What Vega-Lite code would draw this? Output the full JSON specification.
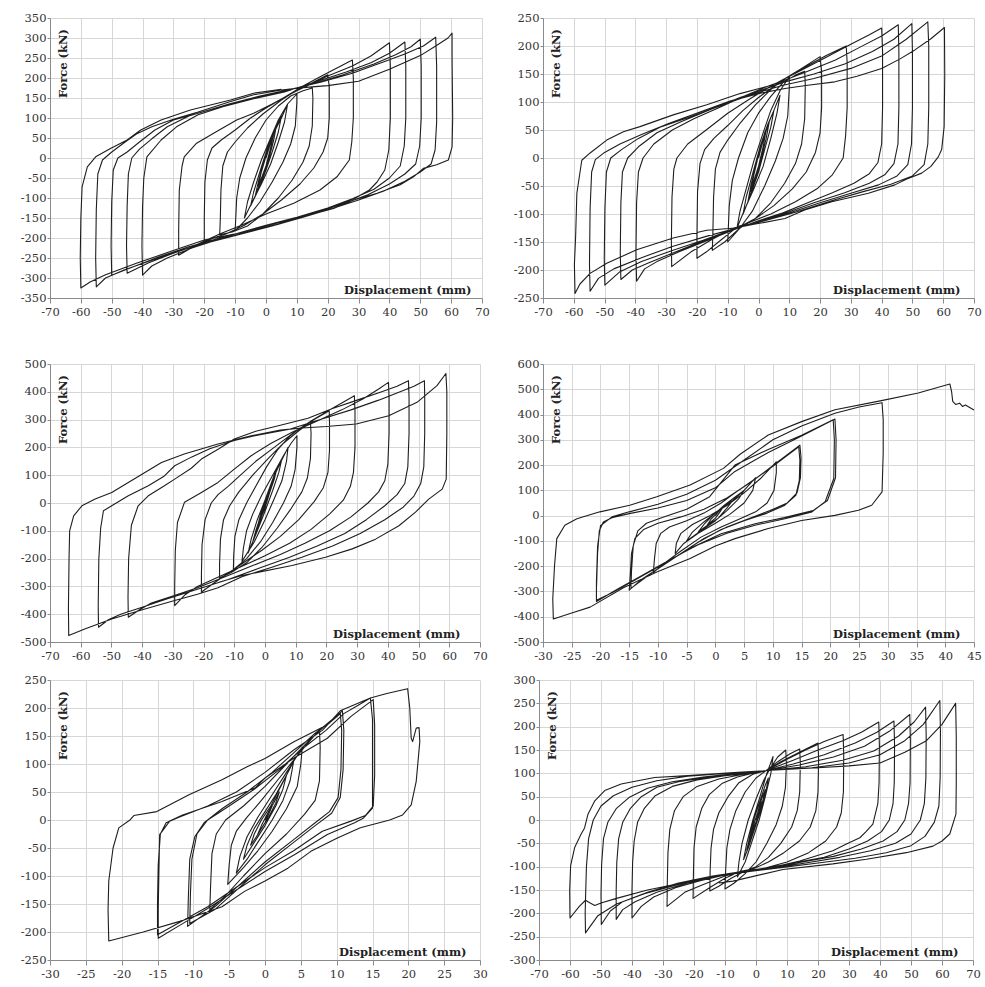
{
"$schema": "https://vega.github.io/schema/vega-lite/v6.json",
"background": "white",
"padding": {"left": 20, "top": 12, "right": 5, "bottom": 5},
"config": {
 "view": {"stroke": null},
 "axis": {"grid": true, "gridColor": "#d6d6d6", "gridWidth": 1, "domainColor": "#8a8a8a", "tickColor": "#8a8a8a", "labelFont": "DejaVu Serif", "labelFontSize": 11.5, "labelColor": "#333333", "titleFont": "DejaVu Serif", "titleFontSize": 11.5, "titleFontWeight": "bold", "titleColor": "#222222", "labelFlush": false, "labelOverlap": false, "labelExpr": "replace(datum.label, '\u2212', '-')"},
 "axisX": {"tickSize": 5, "labelPadding": 3, "titleAlign": "right", "titleBaseline": "middle", "titleY": -8, "titleAngle": 0},
 "axisY": {"tickSize": 3, "labelPadding": 1, "titleAngle": 270, "titleAlign": "center", "titleBaseline": "middle", "titleX": 13, "titleY": 45},
 "line": {"color": "#1e1e1e", "strokeWidth": 1.1, "strokeJoin": "round", "clip": true}
},
"datasets": {
"p1": [
{"x":0,"y":0},{"x":1.2,"y":30},{"x":2.5,"y":60},{"x":1.5,"y":25},{"x":0,"y":-20},{"x":-1.2,"y":-45},{"x":-2.5,"y":-70},
{"x":-1.5,"y":-35},{"x":0,"y":5},{"x":2,"y":50},{"x":3.5,"y":85},{"x":2.5,"y":45},{"x":0.5,"y":-15},{"x":-1.5,"y":-55},{"x":-3.5,"y":-95},
{"x":-2.5,"y":-60},{"x":-0.5,"y":-5},{"x":2,"y":55},{"x":5,"y":105},{"x":4,"y":65},{"x":2,"y":15},{"x":0,"y":-30},{"x":-2.5,"y":-80},{"x":-5,"y":-120},
{"x":-4,"y":-85},{"x":-2,"y":-35},{"x":0.5,"y":25},{"x":3,"y":70},{"x":5,"y":100},{"x":7,"y":135},{"x":6,"y":90},{"x":4,"y":40},{"x":1.5,"y":-15},{"x":-1.5,"y":-65},{"x":-4.5,"y":-110},{"x":-7,"y":-150},
{"x":-6,"y":-110},{"x":-4,"y":-60},{"x":-1.5,"y":-5},{"x":1.5,"y":50},{"x":4,"y":95},{"x":7,"y":135},{"x":10,"y":160},{"x":10,"y":140},{"x":9.5,"y":80},{"x":8,"y":35},{"x":5.5,"y":-10},{"x":2,"y":-60},{"x":-2,"y":-110},{"x":-6,"y":-150},{"x":-10,"y":-182},
{"x":-9.8,"y":-150},{"x":-9.5,"y":-100},{"x":-8.5,"y":-50},{"x":-6.5,"y":0},{"x":-3.5,"y":50},{"x":0,"y":95},{"x":4,"y":130},{"x":8,"y":155},{"x":12,"y":168},{"x":15,"y":175},{"x":15.2,"y":150},{"x":15,"y":80},{"x":14,"y":30},{"x":12,"y":-10},{"x":8.5,"y":-55},{"x":4,"y":-100},{"x":-1,"y":-140},{"x":-6,"y":-170},{"x":-11,"y":-185},{"x":-15,"y":-192},
{"x":-14.8,"y":-150},{"x":-14.6,"y":-80},{"x":-14,"y":-20},{"x":-12.5,"y":15},{"x":-10,"y":40},{"x":-6,"y":75},{"x":-1,"y":110},{"x":5,"y":145},{"x":10,"y":170},{"x":15,"y":188},{"x":20,"y":208},{"x":20.5,"y":180},{"x":20.5,"y":100},{"x":20,"y":50},{"x":18.5,"y":15},{"x":15.5,"y":-25},{"x":11,"y":-65},{"x":5,"y":-105},{"x":-1,"y":-140},{"x":-7,"y":-168},{"x":-13,"y":-190},{"x":-17,"y":-200},{"x":-20,"y":-210},
{"x":-20,"y":-150},{"x":-19.8,"y":-60},{"x":-19,"y":-5},{"x":-17.5,"y":25},{"x":-14.5,"y":45},{"x":-10,"y":70},{"x":-5,"y":100},{"x":0,"y":125},{"x":6,"y":152},{"x":12,"y":180},{"x":18,"y":205},{"x":23,"y":225},{"x":28,"y":245},{"x":28.3,"y":200},{"x":28.3,"y":100},{"x":27.8,"y":40},{"x":27,"y":-5},{"x":23,"y":-47},{"x":17.5,"y":-80},{"x":9,"y":-113},{"x":0,"y":-140},{"x":-8,"y":-168},{"x":-15,"y":-190},{"x":-22,"y":-215},{"x":-28.3,"y":-243},
{"x":-28.3,"y":-180},{"x":-28.1,"y":-80},{"x":-27.2,"y":-20},{"x":-26.5,"y":3},{"x":-22.5,"y":37},{"x":-16,"y":66},{"x":-9.5,"y":95},{"x":-4,"y":112},{"x":2,"y":135},{"x":10,"y":168},{"x":20,"y":205},{"x":28,"y":230},{"x":34,"y":255},{"x":40,"y":288},{"x":40.3,"y":230},{"x":40.3,"y":100},{"x":39.8,"y":20},{"x":38.5,"y":-30},{"x":36,"y":-60},{"x":33.5,"y":-80},{"x":29,"y":-100},{"x":22,"y":-122},{"x":14,"y":-142},{"x":4,"y":-165},{"x":-6,"y":-185},{"x":-16,"y":-205},{"x":-24,"y":-225},{"x":-32,"y":-250},{"x":-37,"y":-270},{"x":-40,"y":-293},
{"x":-40.2,"y":-220},{"x":-40,"y":-120},{"x":-39.6,"y":-50},{"x":-38.6,"y":3},{"x":-34,"y":45},{"x":-29,"y":78},{"x":-22,"y":108},{"x":-14,"y":128},{"x":-4,"y":148},{"x":6,"y":165},{"x":16,"y":190},{"x":26,"y":215},{"x":34,"y":238},{"x":40,"y":262},{"x":45,"y":290},{"x":45.3,"y":230},{"x":45.3,"y":100},{"x":44.8,"y":30},{"x":43.5,"y":-20},{"x":40,"y":-50},{"x":35,"y":-78},{"x":28,"y":-102},{"x":20,"y":-125},{"x":10,"y":-148},{"x":0,"y":-168},{"x":-10,"y":-190},{"x":-20,"y":-212},{"x":-30,"y":-238},{"x":-38,"y":-262},{"x":-45,"y":-288},
{"x":-45.2,"y":-220},{"x":-45,"y":-120},{"x":-44.6,"y":-40},{"x":-43.5,"y":0},{"x":-41,"y":22},{"x":-37,"y":48},{"x":-32,"y":78},{"x":-25,"y":105},{"x":-15,"y":128},{"x":-5,"y":148},{"x":5,"y":165},{"x":15,"y":185},{"x":25,"y":208},{"x":35,"y":235},{"x":42,"y":258},{"x":47,"y":278},{"x":50,"y":297},{"x":50.3,"y":230},{"x":50.3,"y":100},{"x":49.8,"y":30},{"x":48.5,"y":-15},{"x":45,"y":-40},{"x":40,"y":-65},{"x":33,"y":-92},{"x":25,"y":-115},{"x":15,"y":-138},{"x":5,"y":-160},{"x":-5,"y":-180},{"x":-15,"y":-200},{"x":-25,"y":-222},{"x":-35,"y":-248},{"x":-43,"y":-272},{"x":-50,"y":-293},
{"x":-50.2,"y":-220},{"x":-50,"y":-110},{"x":-49.5,"y":-30},{"x":-48,"y":0},{"x":-45,"y":15},{"x":-41,"y":40},{"x":-36,"y":70},{"x":-30,"y":95},{"x":-22,"y":112},{"x":-12,"y":135},{"x":-2,"y":155},{"x":8,"y":172},{"x":18,"y":190},{"x":28,"y":212},{"x":38,"y":240},{"x":45,"y":260},{"x":51,"y":280},{"x":55,"y":302},{"x":55.3,"y":230},{"x":55.3,"y":90},{"x":54.8,"y":20},{"x":53.5,"y":-15},{"x":50,"y":-35},{"x":45,"y":-58},{"x":38,"y":-83},{"x":30,"y":-105},{"x":22,"y":-125},{"x":12,"y":-148},{"x":2,"y":-170},{"x":-8,"y":-190},{"x":-18,"y":-210},{"x":-28,"y":-232},{"x":-38,"y":-258},{"x":-46,"y":-280},{"x":-52,"y":-300},{"x":-55,"y":-322},
{"x":-55.2,"y":-250},{"x":-55,"y":-130},{"x":-54.5,"y":-40},{"x":-53,"y":-5},{"x":-50,"y":15},{"x":-46,"y":38},{"x":-42,"y":60},{"x":-37,"y":78},{"x":-30,"y":97},{"x":-22,"y":115},{"x":-12,"y":140},{"x":-4,"y":158},{"x":5,"y":170},{"x":12,"y":176},{"x":20,"y":181},{"x":30,"y":192},{"x":40,"y":222},{"x":50,"y":256},{"x":55,"y":280},{"x":59,"y":300},{"x":60.3,"y":312},{"x":60.3,"y":250},{"x":60.5,"y":100},{"x":60.3,"y":28},{"x":59.1,"y":-5},{"x":55.3,"y":-17},{"x":51,"y":-26},{"x":47.8,"y":-47},{"x":43.5,"y":-67},{"x":36,"y":-88},{"x":28.4,"y":-105},{"x":21.9,"y":-126},{"x":14.4,"y":-142},{"x":3.5,"y":-167},{"x":-7,"y":-185},{"x":-20,"y":-205},{"x":-31,"y":-234},{"x":-42,"y":-263},{"x":-52,"y":-292},{"x":-57,"y":-310},{"x":-60,"y":-325},
{"x":-60.2,"y":-250},{"x":-60,"y":-150},{"x":-59.6,"y":-72},{"x":-57.9,"y":-22},{"x":-55.2,"y":3},{"x":-50.4,"y":24},{"x":-45,"y":45},{"x":-40.6,"y":70},{"x":-34,"y":95},{"x":-24.5,"y":120},{"x":-11.5,"y":145},{"x":-4,"y":162},{"x":5,"y":172}
],
"p2": [
{"x":0,"y":0},{"x":1.2,"y":25},{"x":2.5,"y":50},{"x":1.5,"y":20},{"x":0,"y":-15},{"x":-1.2,"y":-35},{"x":-2.5,"y":-60},
{"x":-1.5,"y":-30},{"x":0,"y":5},{"x":2,"y":40},{"x":3.5,"y":65},{"x":2.5,"y":35},{"x":0.5,"y":-10},{"x":-1.5,"y":-45},{"x":-3.5,"y":-80},
{"x":-2.5,"y":-50},{"x":-0.5,"y":-5},{"x":2,"y":45},{"x":5,"y":85},{"x":4,"y":55},{"x":2,"y":15},{"x":0,"y":-25},{"x":-2.5,"y":-65},{"x":-5,"y":-100},
{"x":-4,"y":-70},{"x":-2,"y":-30},{"x":0.5,"y":20},{"x":3,"y":60},{"x":5,"y":85},{"x":7,"y":112},{"x":6,"y":80},{"x":4,"y":35},{"x":1.5,"y":-15},{"x":-1.5,"y":-55},{"x":-4.5,"y":-92},{"x":-7,"y":-125},
{"x":-6,"y":-95},{"x":-4,"y":-55},{"x":-1.5,"y":-5},{"x":1.5,"y":45},{"x":4,"y":85},{"x":7,"y":120},{"x":10,"y":145},{"x":10,"y":125},{"x":9.5,"y":75},{"x":8,"y":35},{"x":5.5,"y":-5},{"x":2,"y":-50},{"x":-2,"y":-95},{"x":-6,"y":-125},{"x":-10,"y":-150},
{"x":-9.8,"y":-125},{"x":-9.5,"y":-85},{"x":-8.5,"y":-40},{"x":-6.5,"y":0},{"x":-3.5,"y":45},{"x":0,"y":80},{"x":4,"y":110},{"x":8,"y":135},{"x":12,"y":148},{"x":15,"y":155},{"x":15.2,"y":130},{"x":15,"y":70},{"x":14,"y":25},{"x":12,"y":-10},{"x":8.5,"y":-45},{"x":4,"y":-80},{"x":-1,"y":-108},{"x":-6,"y":-125},{"x":-11,"y":-150},{"x":-15,"y":-165},
{"x":-14.8,"y":-130},{"x":-14.6,"y":-70},{"x":-14,"y":-20},{"x":-12.5,"y":10},{"x":-10,"y":32},{"x":-6,"y":62},{"x":-1,"y":95},{"x":4,"y":122},{"x":8,"y":140},{"x":14,"y":160},{"x":20,"y":181},{"x":20.5,"y":155},{"x":20.5,"y":90},{"x":20,"y":45},{"x":18.5,"y":10},{"x":15.5,"y":-25},{"x":11,"y":-55},{"x":5,"y":-85},{"x":-1,"y":-108},{"x":-8,"y":-128},{"x":-13,"y":-150},{"x":-17,"y":-168},{"x":-20,"y":-179},
{"x":-20,"y":-140},{"x":-19.8,"y":-60},{"x":-19,"y":-10},{"x":-17.5,"y":15},{"x":-14.5,"y":35},{"x":-10,"y":58},{"x":-5,"y":85},{"x":0,"y":108},{"x":5,"y":128},{"x":9,"y":143},{"x":15,"y":162},{"x":22,"y":183},{"x":28.5,"y":200},{"x":28.8,"y":170},{"x":28.8,"y":90},{"x":28.3,"y":40},{"x":27.5,"y":0},{"x":24,"y":-30},{"x":19,"y":-55},{"x":12,"y":-78},{"x":4,"y":-100},{"x":-3,"y":-115},{"x":-8,"y":-125},{"x":-15,"y":-145},{"x":-22,"y":-168},{"x":-28.2,"y":-194},
{"x":-28.3,"y":-150},{"x":-28.1,"y":-70},{"x":-27.5,"y":-20},{"x":-26.5,"y":0},{"x":-23,"y":25},{"x":-17,"y":50},{"x":-10,"y":80},{"x":-3,"y":105},{"x":3,"y":125},{"x":8,"y":140},{"x":15,"y":160},{"x":22,"y":180},{"x":30,"y":203},{"x":36,"y":220},{"x":40,"y":232},{"x":40.3,"y":190},{"x":40.3,"y":90},{"x":40,"y":25},{"x":38.8,"y":-8},{"x":36,"y":-28},{"x":31,"y":-45},{"x":24,"y":-62},{"x":16,"y":-80},{"x":8,"y":-98},{"x":0,"y":-112},{"x":-8,"y":-128},{"x":-17,"y":-148},{"x":-26,"y":-168},{"x":-33,"y":-185},{"x":-37,"y":-198},{"x":-39.6,"y":-220},
{"x":-39.8,"y":-170},{"x":-39.6,"y":-80},{"x":-39,"y":-25},{"x":-37.5,"y":0},{"x":-34,"y":25},{"x":-28,"y":50},{"x":-21,"y":70},{"x":-12,"y":92},{"x":-4,"y":112},{"x":3,"y":128},{"x":8,"y":138},{"x":16,"y":155},{"x":25,"y":175},{"x":33,"y":198},{"x":40,"y":218},{"x":45.4,"y":238},{"x":45.6,"y":190},{"x":45.6,"y":90},{"x":45.3,"y":25},{"x":44,"y":-10},{"x":41,"y":-30},{"x":36,"y":-45},{"x":28,"y":-62},{"x":18,"y":-80},{"x":8,"y":-100},{"x":0,"y":-113},{"x":-8,"y":-127},{"x":-18,"y":-148},{"x":-28,"y":-170},{"x":-36,"y":-188},{"x":-41,"y":-200},{"x":-44.7,"y":-217},
{"x":-44.9,"y":-170},{"x":-44.7,"y":-80},{"x":-44.2,"y":-25},{"x":-42.5,"y":0},{"x":-39,"y":20},{"x":-33,"y":45},{"x":-25,"y":65},{"x":-15,"y":88},{"x":-6,"y":108},{"x":2,"y":123},{"x":8,"y":135},{"x":18,"y":150},{"x":28,"y":168},{"x":37,"y":190},{"x":44,"y":212},{"x":49.8,"y":240},{"x":50,"y":190},{"x":50,"y":90},{"x":49.7,"y":25},{"x":48.5,"y":-12},{"x":45,"y":-32},{"x":39,"y":-48},{"x":30,"y":-63},{"x":20,"y":-80},{"x":9,"y":-100},{"x":0,"y":-114},{"x":-8,"y":-127},{"x":-18,"y":-147},{"x":-28,"y":-165},{"x":-38,"y":-185},{"x":-45,"y":-203},{"x":-49.9,"y":-227},
{"x":-50.1,"y":-180},{"x":-49.9,"y":-90},{"x":-49.4,"y":-25},{"x":-48,"y":0},{"x":-44.5,"y":15},{"x":-39,"y":35},{"x":-32,"y":55},{"x":-23,"y":72},{"x":-13,"y":92},{"x":-4,"y":110},{"x":3,"y":122},{"x":8,"y":130},{"x":18,"y":142},{"x":30,"y":160},{"x":40,"y":182},{"x":48,"y":212},{"x":55,"y":243},{"x":55.3,"y":200},{"x":55.3,"y":90},{"x":55,"y":25},{"x":53.8,"y":-12},{"x":50,"y":-32},{"x":43,"y":-47},{"x":34,"y":-60},{"x":24,"y":-76},{"x":12,"y":-97},{"x":2,"y":-112},{"x":-7,"y":-125},{"x":-17,"y":-140},{"x":-28,"y":-158},{"x":-38,"y":-178},{"x":-47,"y":-198},{"x":-52,"y":-215},{"x":-54.7,"y":-238},
{"x":-54.9,"y":-190},{"x":-54.7,"y":-90},{"x":-54.2,"y":-25},{"x":-53,"y":-3},{"x":-50,"y":10},{"x":-45,"y":25},{"x":-38,"y":42},{"x":-29,"y":62},{"x":-19,"y":82},{"x":-9,"y":102},{"x":0,"y":115},{"x":8.6,"y":124},{"x":16,"y":130},{"x":24.8,"y":136},{"x":32,"y":146},{"x":40,"y":160},{"x":46,"y":177},{"x":50.8,"y":193},{"x":56,"y":213},{"x":60.4,"y":233},{"x":60.5,"y":150},{"x":60.3,"y":56},{"x":59.5,"y":15},{"x":58.4,"y":2},{"x":56,"y":-15},{"x":53,"y":-27},{"x":48,"y":-38},{"x":44.3,"y":-48},{"x":35.7,"y":-63},{"x":23.8,"y":-78},{"x":15,"y":-93},{"x":8.6,"y":-108},{"x":-1,"y":-118},{"x":-7.6,"y":-125},{"x":-16.8,"y":-129},{"x":-27.7,"y":-143},{"x":-39.6,"y":-164},{"x":-49.3,"y":-188},{"x":-54.7,"y":-206},{"x":-58,"y":-225},{"x":-59.6,"y":-242},
{"x":-59.8,"y":-190},{"x":-59.4,"y":-140},{"x":-59,"y":-63},{"x":-57.4,"y":-4},{"x":-54.7,"y":9},{"x":-49.3,"y":32},{"x":-43.9,"y":47},{"x":-38.5,"y":56},{"x":-27.7,"y":77},{"x":-16.8,"y":95},{"x":-6,"y":115},{"x":3,"y":128},{"x":8.6,"y":138}
],
"p3": [
{"x":0,"y":0},{"x":1,"y":30},{"x":2,"y":60},{"x":1,"y":25},{"x":0,"y":-20},{"x":-1,"y":-45},{"x":-2,"y":-70},
{"x":-1,"y":-30},{"x":0,"y":10},{"x":1.5,"y":55},{"x":3,"y":100},{"x":2,"y":55},{"x":0.5,"y":0},{"x":-1.5,"y":-60},{"x":-3,"y":-110},
{"x":-2,"y":-65},{"x":-0.5,"y":-5},{"x":1.5,"y":55},{"x":4,"y":130},{"x":3,"y":85},{"x":1,"y":20},{"x":-1,"y":-45},{"x":-2.5,"y":-95},{"x":-4,"y":-140},
{"x":-3,"y":-100},{"x":-1,"y":-35},{"x":1,"y":30},{"x":3,"y":100},{"x":5.5,"y":160},{"x":4.5,"y":110},{"x":2.5,"y":45},{"x":0,"y":-30},{"x":-2.5,"y":-100},{"x":-5.5,"y":-180},
{"x":-4.5,"y":-130},{"x":-2.5,"y":-60},{"x":0,"y":10},{"x":2.5,"y":85},{"x":5,"y":145},{"x":7.5,"y":200},{"x":7,"y":150},{"x":5.5,"y":80},{"x":3,"y":15},{"x":0,"y":-60},{"x":-3.5,"y":-140},{"x":-7.5,"y":-210},
{"x":-7,"y":-160},{"x":-6,"y":-100},{"x":-4,"y":-40},{"x":-1,"y":30},{"x":2.5,"y":100},{"x":6,"y":170},{"x":8.5,"y":215},{"x":10.4,"y":242},{"x":10.4,"y":200},{"x":9.8,"y":120},{"x":8.5,"y":60},{"x":6,"y":0},{"x":2.5,"y":-70},{"x":-1.5,"y":-140},{"x":-6,"y":-200},{"x":-10.3,"y":-240},
{"x":-10.2,"y":-190},{"x":-9.8,"y":-120},{"x":-8.5,"y":-60},{"x":-6,"y":0},{"x":-3,"y":60},{"x":0.5,"y":130},{"x":4,"y":190},{"x":8,"y":240},{"x":11.5,"y":270},{"x":14.8,"y":290},{"x":15,"y":250},{"x":14.8,"y":160},{"x":13.8,"y":90},{"x":12,"y":40},{"x":8.5,"y":-20},{"x":4,"y":-90},{"x":-1,"y":-160},{"x":-6,"y":-215},{"x":-11,"y":-250},{"x":-14.8,"y":-270},
{"x":-14.8,"y":-220},{"x":-14.5,"y":-130},{"x":-13.5,"y":-60},{"x":-11.5,"y":-10},{"x":-8.5,"y":40},{"x":-4,"y":100},{"x":1,"y":160},{"x":6,"y":215},{"x":11,"y":260},{"x":16,"y":300},{"x":20.9,"y":332},{"x":21,"y":290},{"x":21,"y":190},{"x":20.5,"y":110},{"x":19,"y":55},{"x":16,"y":5},{"x":11,"y":-60},{"x":5,"y":-120},{"x":-1,"y":-170},{"x":-7,"y":-215},{"x":-13,"y":-260},{"x":-17.5,"y":-295},{"x":-20.7,"y":-320},
{"x":-20.7,"y":-260},{"x":-20.5,"y":-150},{"x":-19.5,"y":-60},{"x":-17.5,"y":0},{"x":-15.3,"y":30},{"x":-12,"y":60},{"x":-8,"y":100},{"x":-3,"y":150},{"x":3,"y":200},{"x":9,"y":250},{"x":15,"y":295},{"x":21,"y":335},{"x":25,"y":360},{"x":29.1,"y":386},{"x":29.3,"y":330},{"x":29.3,"y":200},{"x":28.8,"y":110},{"x":27.8,"y":60},{"x":25.5,"y":10},{"x":21,"y":-40},{"x":15,"y":-95},{"x":8,"y":-145},{"x":0,"y":-190},{"x":-8,"y":-230},{"x":-15,"y":-265},{"x":-22,"y":-300},{"x":-26,"y":-330},{"x":-29.4,"y":-369},
{"x":-29.4,"y":-300},{"x":-29.2,"y":-170},{"x":-28.5,"y":-70},{"x":-26.2,"y":3},{"x":-20.7,"y":38},{"x":-15.3,"y":74},{"x":-10,"y":122},{"x":-4.5,"y":170},{"x":2,"y":215},{"x":9,"y":255},{"x":17,"y":295},{"x":25,"y":335},{"x":32,"y":375},{"x":37,"y":410},{"x":40.2,"y":434},{"x":40.4,"y":380},{"x":40.4,"y":250},{"x":40,"y":140},{"x":39,"y":80},{"x":37,"y":40},{"x":33.5,"y":0},{"x":28,"y":-50},{"x":21,"y":-100},{"x":13,"y":-145},{"x":5,"y":-185},{"x":-4,"y":-225},{"x":-13,"y":-265},{"x":-22,"y":-305},{"x":-30,"y":-335},{"x":-37,"y":-360},{"x":-41,"y":-385},{"x":-44.5,"y":-411},
{"x":-44.6,"y":-340},{"x":-44.4,"y":-200},{"x":-43.5,"y":-80},{"x":-41.3,"y":-10},{"x":-38,"y":26},{"x":-33,"y":60},{"x":-29.4,"y":86},{"x":-24,"y":125},{"x":-20.7,"y":158},{"x":-15,"y":195},{"x":-10,"y":230},{"x":-3,"y":258},{"x":5,"y":280},{"x":14,"y":305},{"x":22,"y":340},{"x":30,"y":370},{"x":38,"y":400},{"x":43,"y":420},{"x":46.7,"y":440},{"x":46.9,"y":380},{"x":46.9,"y":250},{"x":46.5,"y":130},{"x":45.5,"y":70},{"x":43,"y":30},{"x":39,"y":-10},{"x":33,"y":-60},{"x":26,"y":-110},{"x":17,"y":-155},{"x":8,"y":-195},{"x":-2,"y":-235},{"x":-12,"y":-275},{"x":-22,"y":-310},{"x":-32,"y":-345},{"x":-40,"y":-375},{"x":-47,"y":-400},{"x":-51,"y":-420},{"x":-54.2,"y":-447},
{"x":-54.3,"y":-370},{"x":-54.1,"y":-200},{"x":-53.5,"y":-90},{"x":-52.6,"y":-28},{"x":-49.9,"y":-10},{"x":-44.5,"y":26},{"x":-38,"y":62},{"x":-33,"y":95},{"x":-29.4,"y":134},{"x":-24,"y":165},{"x":-18,"y":195},{"x":-10,"y":225},{"x":-2,"y":245},{"x":8,"y":265},{"x":18,"y":300},{"x":28,"y":335},{"x":37,"y":370},{"x":44,"y":400},{"x":48.5,"y":420},{"x":51.9,"y":440},{"x":52,"y":380},{"x":52,"y":250},{"x":51.7,"y":130},{"x":50.7,"y":70},{"x":48.5,"y":25},{"x":45,"y":-15},{"x":39,"y":-60},{"x":31,"y":-110},{"x":22,"y":-155},{"x":12,"y":-195},{"x":2,"y":-232},{"x":-7,"y":-263},{"x":-15.3,"y":-305},{"x":-22,"y":-328},{"x":-29.4,"y":-351},{"x":-39.1,"y":-381},{"x":-49.9,"y":-417},{"x":-58.7,"y":-453},{"x":-63.9,"y":-477},
{"x":-64,"y":-380},{"x":-63.8,"y":-200},{"x":-63.6,"y":-100},{"x":-62.3,"y":-46},{"x":-59.6,"y":-10},{"x":-55.3,"y":14},{"x":-49.9,"y":38},{"x":-44.5,"y":74},{"x":-39.1,"y":110},{"x":-33.7,"y":146},{"x":-26.3,"y":176},{"x":-15.3,"y":212},{"x":-4.5,"y":242},{"x":5,"y":262},{"x":12,"y":270},{"x":20,"y":275},{"x":29.7,"y":284},{"x":40.3,"y":314},{"x":49.5,"y":362},{"x":56,"y":422},{"x":58.9,"y":466},
{"x":59.2,"y":400},{"x":59.2,"y":250},{"x":59,"y":86},{"x":57.7,"y":50},{"x":53.3,"y":14},{"x":49,"y":-33},{"x":43.6,"y":-82},{"x":36,"y":-130},{"x":28.4,"y":-165},{"x":19.7,"y":-195},{"x":8.8,"y":-225},{"x":-7.5,"y":-261},{"x":-15,"y":-285}
],
"p4": [
{"x":0,"y":0},{"x":0.8,"y":25},{"x":1.5,"y":40},{"x":0.8,"y":15},{"x":0,"y":-10},{"x":-0.8,"y":-25},{"x":-1.5,"y":-40},
{"x":-0.8,"y":-15},{"x":0.5,"y":15},{"x":2,"y":45},{"x":3,"y":60},{"x":2,"y":30},{"x":0.5,"y":-10},{"x":-1.5,"y":-40},{"x":-3,"y":-65},
{"x":-2,"y":-35},{"x":-0.5,"y":0},{"x":1.5,"y":40},{"x":3.5,"y":75},{"x":5,"y":100},{"x":4,"y":65},{"x":2,"y":20},{"x":0,"y":-20},{"x":-2.5,"y":-60},{"x":-5,"y":-100},
{"x":-4,"y":-65},{"x":-2,"y":-25},{"x":0.5,"y":20},{"x":3,"y":60},{"x":5,"y":100},{"x":7,"y":150},{"x":6.5,"y":100},{"x":5,"y":50},{"x":2.5,"y":5},{"x":0,"y":-30},{"x":-3,"y":-70},{"x":-5.5,"y":-110},{"x":-7,"y":-150},
{"x":-6.8,"y":-110},{"x":-6,"y":-70},{"x":-4,"y":-35},{"x":-1,"y":0},{"x":2,"y":40},{"x":5,"y":90},{"x":8,"y":150},{"x":10.6,"y":213},{"x":10.6,"y":170},{"x":10.2,"y":100},{"x":9,"y":50},{"x":7,"y":15},{"x":4,"y":-15},{"x":1,"y":-45},{"x":-2.5,"y":-85},{"x":-6,"y":-140},{"x":-9,"y":-190},{"x":-10.8,"y":-225},
{"x":-10.6,"y":-170},{"x":-10.3,"y":-110},{"x":-9.5,"y":-70},{"x":-8,"y":-45},{"x":-5,"y":-20},{"x":-2,"y":10},{"x":1,"y":50},{"x":4,"y":100},{"x":7.5,"y":155},{"x":11,"y":215},{"x":14.7,"y":279},{"x":14.9,"y":230},{"x":14.8,"y":150},{"x":14.2,"y":90},{"x":12.5,"y":50},{"x":9.5,"y":20},{"x":6,"y":-10},{"x":2,"y":-45},{"x":-2,"y":-90},{"x":-6,"y":-150},{"x":-10,"y":-210},{"x":-13,"y":-255},{"x":-15,"y":-295},
{"x":-14.8,"y":-230},{"x":-14.6,"y":-150},{"x":-14,"y":-90},{"x":-12.5,"y":-55},{"x":-10,"y":-30},{"x":-6,"y":-5},{"x":-2,"y":25},{"x":2,"y":70},{"x":6,"y":130},{"x":10,"y":195},{"x":14.5,"y":272},{"x":14.7,"y":220},{"x":14.6,"y":140},{"x":14,"y":80},{"x":12,"y":40},{"x":9,"y":10},{"x":5,"y":-20},{"x":1,"y":-55},{"x":-3,"y":-105},{"x":-7,"y":-165},{"x":-11,"y":-225},{"x":-14.7,"y":-288},
{"x":-14.6,"y":-220},{"x":-14.3,"y":-120},{"x":-13.5,"y":-60},{"x":-12,"y":-30},{"x":-9,"y":-5},{"x":-5,"y":25},{"x":-1,"y":75},{"x":3.4,"y":200},{"x":9.2,"y":262},{"x":15,"y":318},{"x":20.5,"y":379},{"x":20.7,"y":300},{"x":20.6,"y":147},{"x":19.1,"y":55},{"x":16.8,"y":15},{"x":12.1,"y":-12},{"x":6.9,"y":-38},{"x":2,"y":-70},{"x":-3,"y":-115},{"x":-8,"y":-175},{"x":-13,"y":-240},{"x":-17,"y":-290},{"x":-20.7,"y":-340},
{"x":-20.7,"y":-290},{"x":-20.5,"y":-150},{"x":-20.2,"y":-60},{"x":-19.5,"y":-25},{"x":-18,"y":-8},{"x":-15,"y":8},{"x":-10,"y":30},{"x":-5,"y":60},{"x":0,"y":110},{"x":3.4,"y":175},{"x":9.2,"y":250},{"x":15,"y":315},{"x":20.8,"y":382},{"x":21,"y":300},{"x":20.9,"y":150},{"x":19.5,"y":60},{"x":17,"y":20},{"x":12,"y":-8},{"x":6.9,"y":-32},{"x":1,"y":-72},{"x":-4,"y":-125},{"x":-9,"y":-190},{"x":-14,"y":-255},{"x":-18,"y":-305},{"x":-20.7,"y":-335},
{"x":-20.7,"y":-260},{"x":-20.5,"y":-120},{"x":-20,"y":-40},{"x":-18,"y":-5},{"x":-15,"y":15},{"x":-10,"y":45},{"x":-5,"y":85},{"x":0,"y":140},{"x":5,"y":220},{"x":10,"y":300},{"x":15,"y":355},{"x":20.8,"y":405},{"x":25,"y":430},{"x":29,"y":447},{"x":29.2,"y":380},{"x":29.2,"y":250},{"x":29,"y":94},{"x":27.2,"y":41},{"x":24.9,"y":21},{"x":20.8,"y":1},{"x":15,"y":-19},{"x":9.2,"y":-51},{"x":3.4,"y":-91},{"x":0,"y":-120},{"x":-4.4,"y":-170},{"x":-10.2,"y":-223},{"x":-16,"y":-285},{"x":-21.8,"y":-362},{"x":-25,"y":-385},{"x":-28.2,"y":-409},
{"x":-28.3,"y":-330},{"x":-28,"y":-200},{"x":-27.6,"y":-91},{"x":-26.2,"y":-38},{"x":-24.1,"y":-12},{"x":-20.1,"y":15},{"x":-14.9,"y":41},{"x":-10.2,"y":75},{"x":-4.4,"y":121},{"x":1.4,"y":187},{"x":4.3,"y":243},{"x":9.2,"y":319},{"x":15,"y":372},{"x":20.8,"y":419},{"x":28.9,"y":455},{"x":35.3,"y":485},{"x":40.8,"y":521},{"x":41.1,"y":491},{"x":41.3,"y":452},{"x":41.8,"y":440},{"x":42.5,"y":445},{"x":43,"y":432},{"x":43.5,"y":438},{"x":45,"y":418}
],
"p5": [
{"x":0,"y":0},{"x":0.5,"y":15},{"x":1,"y":25},{"x":0.5,"y":10},{"x":0,"y":-5},{"x":-0.5,"y":-15},{"x":-1,"y":-25},
{"x":-0.5,"y":-10},{"x":0.5,"y":15},{"x":1.2,"y":30},{"x":2,"y":50},{"x":1.5,"y":30},{"x":0.5,"y":5},{"x":-0.5,"y":-15},{"x":-1.2,"y":-30},{"x":-2,"y":-45},
{"x":-1.5,"y":-25},{"x":-0.5,"y":0},{"x":0.8,"y":25},{"x":2,"y":55},{"x":3,"y":80},{"x":2.5,"y":55},{"x":1.5,"y":25},{"x":0,"y":-10},{"x":-1.5,"y":-40},{"x":-3,"y":-70},
{"x":-2.5,"y":-45},{"x":-1.5,"y":-15},{"x":0,"y":15},{"x":1.5,"y":45},{"x":3,"y":80},{"x":4,"y":105},{"x":3.5,"y":70},{"x":2.5,"y":35},{"x":1,"y":0},{"x":-1,"y":-40},{"x":-2.5,"y":-70},{"x":-4,"y":-95},
{"x":-3.5,"y":-65},{"x":-2.5,"y":-30},{"x":-1,"y":5},{"x":1,"y":45},{"x":3,"y":85},{"x":4.5,"y":115},{"x":5.2,"y":130},{"x":5,"y":100},{"x":4.5,"y":60},{"x":3,"y":20},{"x":1,"y":-20},{"x":-1,"y":-55},{"x":-3,"y":-85},{"x":-5.2,"y":-115},
{"x":-5,"y":-80},{"x":-4.7,"y":-45},{"x":-4,"y":-20},{"x":-2.5,"y":5},{"x":-0.5,"y":35},{"x":2,"y":75},{"x":4.5,"y":115},{"x":6.5,"y":145},{"x":7.6,"y":161},{"x":7.7,"y":130},{"x":7.6,"y":70},{"x":7,"y":35},{"x":5.5,"y":10},{"x":3,"y":-25},{"x":0,"y":-60},{"x":-3,"y":-100},{"x":-5.5,"y":-135},{"x":-7.7,"y":-160},
{"x":-7.6,"y":-120},{"x":-7.4,"y":-60},{"x":-6.8,"y":-25},{"x":-5.5,"y":0},{"x":-3,"y":25},{"x":0,"y":60},{"x":3,"y":100},{"x":6,"y":140},{"x":8.5,"y":170},{"x":10.5,"y":191},{"x":10.7,"y":160},{"x":10.6,"y":90},{"x":10.2,"y":40},{"x":9,"y":15},{"x":7,"y":-5},{"x":4,"y":-35},{"x":0,"y":-75},{"x":-3.5,"y":-115},{"x":-7,"y":-155},{"x":-10.8,"y":-190},
{"x":-10.7,"y":-140},{"x":-10.5,"y":-70},{"x":-9.8,"y":-30},{"x":-8.5,"y":-5},{"x":-6,"y":20},{"x":-2.5,"y":50},{"x":1,"y":85},{"x":4,"y":120},{"x":7,"y":155},{"x":9.5,"y":180},{"x":10.8,"y":195},{"x":11,"y":160},{"x":10.9,"y":90},{"x":10.5,"y":40},{"x":9.3,"y":12},{"x":7,"y":-10},{"x":4,"y":-40},{"x":0,"y":-80},{"x":-3.5,"y":-120},{"x":-7,"y":-160},{"x":-10.5,"y":-185},
{"x":-10.4,"y":-130},{"x":-10.2,"y":-70},{"x":-9.5,"y":-25},{"x":-8,"y":0},{"x":-5,"y":25},{"x":-1.5,"y":55},{"x":2,"y":90},{"x":5,"y":125},{"x":8.5,"y":160},{"x":11,"y":190},{"x":13,"y":205},{"x":14.7,"y":218},{"x":15,"y":180},{"x":15,"y":80},{"x":15,"y":21},{"x":13.7,"y":3},{"x":12.5,"y":-5},{"x":8.7,"y":-26},{"x":4.1,"y":-62},{"x":0,"y":-92},{"x":-4,"y":-125},{"x":-8,"y":-158},{"x":-11.5,"y":-185},{"x":-14.9,"y":-211},
{"x":-14.9,"y":-160},{"x":-14.8,"y":-90},{"x":-14.7,"y":-26},{"x":-13.3,"y":-2},{"x":-11.5,"y":9},{"x":-6,"y":33},{"x":-1.4,"y":57},{"x":0,"y":75},{"x":4.1,"y":111},{"x":8.7,"y":146},{"x":12,"y":185},{"x":15.1,"y":215},{"x":15.3,"y":170},{"x":15.3,"y":80},{"x":15.1,"y":25},{"x":14,"y":8},{"x":12,"y":-2},{"x":8,"y":-20},{"x":4,"y":-55},{"x":0,"y":-85},{"x":-4,"y":-120},{"x":-8,"y":-155},{"x":-11.5,"y":-180},{"x":-15,"y":-205},
{"x":-15,"y":-150},{"x":-14.9,"y":-80},{"x":-14.6,"y":-25},{"x":-13.8,"y":-5},{"x":-12,"y":5},{"x":-8,"y":25},{"x":-4,"y":50},{"x":0,"y":85},{"x":4,"y":125},{"x":8,"y":160},{"x":10.5,"y":195},{"x":14.7,"y":218},{"x":17,"y":226},{"x":19.9,"y":234.5},{"x":20.2,"y":200},{"x":20.4,"y":146},{"x":20.6,"y":140},{"x":21.1,"y":164},{"x":21.5,"y":165},{"x":21.6,"y":140},{"x":21.1,"y":69},{"x":20.4,"y":27},{"x":19.2,"y":9},{"x":17.4,"y":0},{"x":13.3,"y":-14},{"x":10.1,"y":-32},{"x":6.4,"y":-56},{"x":3.2,"y":-86},{"x":0,"y":-109},{"x":-2.8,"y":-127},{"x":-6,"y":-155},{"x":-11.9,"y":-181},{"x":-17,"y":-200},{"x":-21.8,"y":-216},
{"x":-21.9,"y":-160},{"x":-21.8,"y":-109},{"x":-21.2,"y":-50},{"x":-20.4,"y":-14},{"x":-18.8,"y":0.5},{"x":-18.3,"y":8},{"x":-15.1,"y":15},{"x":-10.6,"y":45},{"x":-6,"y":72},{"x":-2.5,"y":95},{"x":0,"y":110},{"x":4.1,"y":140},{"x":8.7,"y":170},{"x":10.5,"y":190}
],
"p6": [
{"x":0,"y":0},{"x":1,"y":20},{"x":2,"y":40},{"x":1,"y":15},{"x":0,"y":-5},{"x":-1,"y":-20},{"x":-2,"y":-40},
{"x":-1,"y":-15},{"x":0.5,"y":15},{"x":1.8,"y":45},{"x":3,"y":65},{"x":2,"y":35},{"x":0.5,"y":0},{"x":-1.5,"y":-35},{"x":-3,"y":-65},
{"x":-2,"y":-35},{"x":-0.5,"y":5},{"x":1.5,"y":45},{"x":3,"y":75},{"x":4,"y":90},{"x":3,"y":55},{"x":1,"y":10},{"x":-1,"y":-30},{"x":-2.5,"y":-60},{"x":-4,"y":-85},
{"x":-3,"y":-50},{"x":-1,"y":0},{"x":1.5,"y":55},{"x":3.5,"y":100},{"x":5.5,"y":136},{"x":4.8,"y":100},{"x":3,"y":50},{"x":1,"y":0},{"x":-1.5,"y":-50},{"x":-3.5,"y":-90},{"x":-6,"y":-122},
{"x":-5.5,"y":-90},{"x":-4.5,"y":-50},{"x":-2.5,"y":0},{"x":0,"y":45},{"x":2.5,"y":85},{"x":4.5,"y":110},{"x":7,"y":135},{"x":9.6,"y":150},{"x":9.8,"y":120},{"x":9.5,"y":70},{"x":8.5,"y":30},{"x":6.5,"y":-10},{"x":3.5,"y":-50},{"x":0,"y":-90},{"x":-3.5,"y":-115},{"x":-7,"y":-135},{"x":-10,"y":-148},
{"x":-9.8,"y":-110},{"x":-9.4,"y":-60},{"x":-8.4,"y":-20},{"x":-6.5,"y":20},{"x":-3.5,"y":60},{"x":0,"y":90},{"x":3.3,"y":106},{"x":7,"y":125},{"x":11,"y":142},{"x":14.1,"y":152},{"x":14.3,"y":120},{"x":14.1,"y":60},{"x":13.3,"y":20},{"x":11.5,"y":-15},{"x":8,"y":-50},{"x":4,"y":-80},{"x":0,"y":-100},{"x":-3.7,"y":-110},{"x":-8,"y":-125},{"x":-12,"y":-142},{"x":-14.9,"y":-152},
{"x":-14.8,"y":-110},{"x":-14.5,"y":-60},{"x":-13.7,"y":-20},{"x":-12,"y":15},{"x":-9,"y":50},{"x":-5.5,"y":80},{"x":-1,"y":98},{"x":3.3,"y":106},{"x":8,"y":125},{"x":14,"y":145},{"x":20,"y":165},{"x":20.2,"y":130},{"x":20,"y":60},{"x":19.3,"y":20},{"x":17.5,"y":-15},{"x":14,"y":-45},{"x":9,"y":-70},{"x":4,"y":-90},{"x":-1,"y":-105},{"x":-5,"y":-110},{"x":-10,"y":-125},{"x":-15,"y":-145},{"x":-20.3,"y":-168},
{"x":-20.2,"y":-120},{"x":-20,"y":-60},{"x":-19.3,"y":-15},{"x":-17.5,"y":25},{"x":-15,"y":55},{"x":-11,"y":78},{"x":-6,"y":92},{"x":0,"y":102},{"x":3.3,"y":106},{"x":10,"y":130},{"x":16,"y":150},{"x":22,"y":168},{"x":28.1,"y":183},{"x":28.3,"y":140},{"x":28.2,"y":60},{"x":27.5,"y":15},{"x":26,"y":-15},{"x":22.5,"y":-45},{"x":17,"y":-70},{"x":10,"y":-90},{"x":3,"y":-103},{"x":-4,"y":-110},{"x":-10,"y":-120},{"x":-17,"y":-138},{"x":-23,"y":-155},{"x":-28.7,"y":-185},
{"x":-28.6,"y":-130},{"x":-28.4,"y":-70},{"x":-27.8,"y":-20},{"x":-26.3,"y":20},{"x":-23.5,"y":50},{"x":-19,"y":72},{"x":-12,"y":88},{"x":-4,"y":98},{"x":3.3,"y":106},{"x":12,"y":128},{"x":20,"y":150},{"x":28,"y":170},{"x":34,"y":188},{"x":39.6,"y":210},{"x":39.8,"y":160},{"x":39.7,"y":80},{"x":39.3,"y":35},{"x":37.7,"y":-9},{"x":35.5,"y":-25},{"x":33.5,"y":-38},{"x":29,"y":-52},{"x":24.8,"y":-66},{"x":18,"y":-80},{"x":14.1,"y":-88},{"x":6,"y":-100},{"x":-2,"y":-108},{"x":-10,"y":-118},{"x":-18,"y":-130},{"x":-26,"y":-145},{"x":-33,"y":-165},{"x":-37,"y":-185},{"x":-40,"y":-210},
{"x":-40,"y":-150},{"x":-39.8,"y":-90},{"x":-39.3,"y":-45},{"x":-38.2,"y":-5},{"x":-36,"y":25},{"x":-32.5,"y":52},{"x":-27,"y":72},{"x":-19,"y":86},{"x":-10,"y":95},{"x":-2,"y":100},{"x":3.3,"y":106},{"x":12,"y":120},{"x":22,"y":140},{"x":32,"y":165},{"x":39,"y":188},{"x":44.5,"y":212},{"x":44.7,"y":160},{"x":44.6,"y":80},{"x":44.2,"y":35},{"x":43,"y":0},{"x":40.5,"y":-25},{"x":36,"y":-45},{"x":30,"y":-62},{"x":22,"y":-80},{"x":12,"y":-92},{"x":4,"y":-102},{"x":-4,"y":-110},{"x":-12,"y":-120},{"x":-22,"y":-135},{"x":-32,"y":-155},{"x":-39,"y":-175},{"x":-43,"y":-192},{"x":-45.1,"y":-213},
{"x":-45.1,"y":-150},{"x":-44.9,"y":-90},{"x":-44.3,"y":-40},{"x":-43,"y":-5},{"x":-40.5,"y":25},{"x":-37,"y":50},{"x":-32,"y":70},{"x":-25,"y":82},{"x":-15,"y":92},{"x":-5,"y":100},{"x":3.3,"y":106},{"x":14,"y":118},{"x":25,"y":135},{"x":35,"y":158},{"x":43,"y":190},{"x":49.6,"y":226},{"x":49.8,"y":170},{"x":49.7,"y":80},{"x":49.2,"y":35},{"x":48,"y":0},{"x":45.5,"y":-25},{"x":41,"y":-45},{"x":34,"y":-62},{"x":25,"y":-78},{"x":15,"y":-90},{"x":5,"y":-102},{"x":-4,"y":-110},{"x":-14,"y":-120},{"x":-25,"y":-135},{"x":-35,"y":-155},{"x":-43,"y":-175},{"x":-47,"y":-195},{"x":-49.9,"y":-224},
{"x":-50,"y":-160},{"x":-49.8,"y":-95},{"x":-49.2,"y":-40},{"x":-47.8,"y":-5},{"x":-45,"y":25},{"x":-41,"y":48},{"x":-35,"y":68},{"x":-27,"y":82},{"x":-17,"y":92},{"x":-6,"y":100},{"x":3.3,"y":106},{"x":16,"y":114},{"x":28,"y":128},{"x":38,"y":148},{"x":46,"y":180},{"x":51,"y":210},{"x":54.7,"y":242},{"x":54.9,"y":180},{"x":54.8,"y":90},{"x":54.3,"y":35},{"x":53,"y":0},{"x":50,"y":-30},{"x":45,"y":-50},{"x":37,"y":-66},{"x":27,"y":-80},{"x":16,"y":-92},{"x":6,"y":-102},{"x":-3,"y":-110},{"x":-14,"y":-122},{"x":-25,"y":-138},{"x":-36,"y":-158},{"x":-45,"y":-180},{"x":-51,"y":-205},{"x":-55,"y":-242},
{"x":-55.1,"y":-200},{"x":-55,"y":-170},{"x":-54.7,"y":-100},{"x":-54,"y":-40},{"x":-52.5,"y":0},{"x":-50,"y":30},{"x":-46,"y":52},{"x":-40,"y":70},{"x":-32,"y":84},{"x":-22,"y":94},{"x":-10,"y":100},{"x":3.3,"y":106},{"x":18,"y":112},{"x":30,"y":122},{"x":40,"y":140},{"x":48,"y":170},{"x":54,"y":205},{"x":59.3,"y":256},{"x":59.5,"y":190},{"x":59.4,"y":90},{"x":59,"y":30},{"x":57.5,"y":-5},{"x":54.5,"y":-35},{"x":50,"y":-55},{"x":42,"y":-70},{"x":32,"y":-82},{"x":20,"y":-92},{"x":8,"y":-102},{"x":-2,"y":-110},{"x":-12,"y":-120},{"x":-24,"y":-135},{"x":-35,"y":-150},{"x":-45,"y":-168},{"x":-50,"y":-178},{"x":-52,"y":-183},{"x":-53.5,"y":-178},{"x":-55,"y":-172},{"x":-57,"y":-185},{"x":-60,"y":-210},
{"x":-60.1,"y":-150},{"x":-59.8,"y":-98},{"x":-58.5,"y":-59},{"x":-56.4,"y":-30},{"x":-55.3,"y":-17},{"x":-54.2,"y":12.5},{"x":-52,"y":41},{"x":-48.8,"y":63},{"x":-43.5,"y":77},{"x":-32.7,"y":91},{"x":-21.9,"y":95},{"x":-5.8,"y":102},{"x":3.3,"y":106},{"x":20,"y":112},{"x":30,"y":116},{"x":40,"y":122},{"x":48,"y":145},{"x":55,"y":170},{"x":60,"y":205},{"x":64.4,"y":250},{"x":64.6,"y":180},{"x":64.6,"y":80},{"x":64.5,"y":12.5},{"x":62.5,"y":-30},{"x":60,"y":-45},{"x":57.1,"y":-56},{"x":48.5,"y":-70},{"x":35.6,"y":-84},{"x":24.8,"y":-94},{"x":8.7,"y":-106},{"x":-7.4,"y":-131},{"x":-12,"y":-135}
]
},
"spacing": 40,
"vconcat": [
 {"hconcat": [
  {"width": 432, "height": 280, "data": {"name": "p1"}, "mark": "line",
   "encoding": {
    "x": {"field": "x", "type": "quantitative", "scale": {"domain": [-70, 70], "nice": false, "zero": false}, "axis": {"values": [-70,-60,-50,-40,-30,-20,-10,0,10,20,30,40,50,60,70], "title": "Displacement (mm)", "titleX": 421}},
    "y": {"field": "y", "type": "quantitative", "scale": {"domain": [-350, 350], "nice": false, "zero": false}, "axis": {"values": [-350,-300,-250,-200,-150,-100,-50,0,50,100,150,200,250,300,350], "title": "Force (kN)"}},
    "order": {"value": null}}},
  {"width": 431, "height": 280, "data": {"name": "p2"}, "mark": "line",
   "encoding": {
    "x": {"field": "x", "type": "quantitative", "scale": {"domain": [-70, 70], "nice": false, "zero": false}, "axis": {"values": [-70,-60,-50,-40,-30,-20,-10,0,10,20,30,40,50,60,70], "title": "Displacement (mm)", "titleX": 417}},
    "y": {"field": "y", "type": "quantitative", "scale": {"domain": [-250, 250], "nice": false, "zero": false}, "axis": {"values": [-250,-200,-150,-100,-50,0,50,100,150,200,250], "title": "Force (kN)"}},
    "order": {"value": null}}}
 ], "spacing": 23},
 {"vconcat": [
  {"hconcat": [
   {"width": 430, "height": 278, "data": {"name": "p3"}, "mark": "line",
    "encoding": {
     "x": {"field": "x", "type": "quantitative", "scale": {"domain": [-70, 70], "nice": false, "zero": false}, "axis": {"values": [-70,-60,-50,-40,-30,-20,-10,0,10,20,30,40,50,60,70], "title": "Displacement (mm)", "titleX": 410}},
     "y": {"field": "y", "type": "quantitative", "scale": {"domain": [-500, 500], "nice": false, "zero": false}, "axis": {"values": [-500,-400,-300,-200,-100,0,100,200,300,400,500], "title": "Force (kN)"}},
     "order": {"value": null}}},
   {"width": 431, "height": 278, "data": {"name": "p4"}, "mark": "line",
    "encoding": {
     "x": {"field": "x", "type": "quantitative", "scale": {"domain": [-30, 45], "nice": false, "zero": false}, "axis": {"values": [-30,-25,-20,-15,-10,-5,0,5,10,15,20,25,30,35,40,45], "title": "Displacement (mm)", "titleX": 417}},
     "y": {"field": "y", "type": "quantitative", "scale": {"domain": [-500, 600], "nice": false, "zero": false}, "axis": {"values": [-500,-400,-300,-200,-100,0,100,200,300,400,500,600], "title": "Force (kN)"}},
     "order": {"value": null}}}
  ], "spacing": 25},
  {"hconcat": [
   {"width": 430, "height": 280, "data": {"name": "p5"}, "mark": "line",
    "encoding": {
     "x": {"field": "x", "type": "quantitative", "scale": {"domain": [-30, 30], "nice": false, "zero": false}, "axis": {"values": [-30,-25,-20,-15,-10,-5,0,5,10,15,20,25,30], "title": "Displacement (mm)", "titleX": 416}},
     "y": {"field": "y", "type": "quantitative", "scale": {"domain": [-250, 250], "nice": false, "zero": false}, "axis": {"values": [-250,-200,-150,-100,-50,0,50,100,150,200,250], "title": "Force (kN)"}},
     "order": {"value": null}}},
   {"width": 434, "height": 280, "data": {"name": "p6"}, "mark": "line",
    "encoding": {
     "x": {"field": "x", "type": "quantitative", "scale": {"domain": [-70, 70], "nice": false, "zero": false}, "axis": {"values": [-70,-60,-50,-40,-30,-20,-10,0,10,20,30,40,50,60,70], "title": "Displacement (mm)", "titleX": 419}},
     "y": {"field": "y", "type": "quantitative", "scale": {"domain": [-300, 300], "nice": false, "zero": false}, "axis": {"values": [-300,-250,-200,-150,-100,-50,0,50,100,150,200,250,300], "title": "Force (kN)"}},
     "order": {"value": null}}}
  ], "spacing": 21}
 ], "spacing": 12}
]
}
